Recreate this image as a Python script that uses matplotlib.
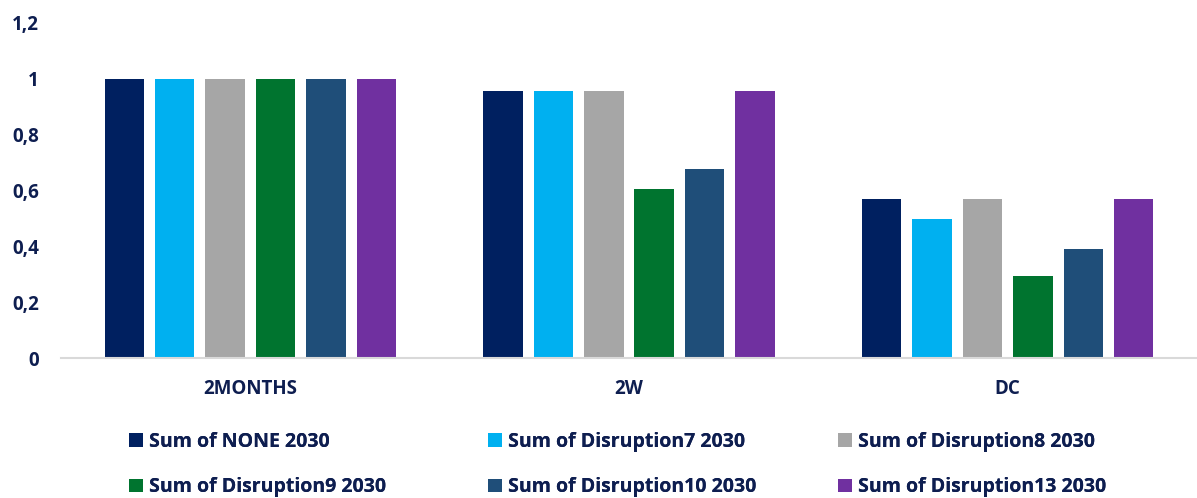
import numpy as np
import matplotlib.pyplot as plt
from matplotlib.patches import Patch

plt.rcParams['font.family'] = ['Open Sans', 'DejaVu Sans']

categories = ['2MONTHS', '2W', 'DC']
series_names = ['Sum of NONE 2030', 'Sum of Disruption7 2030', 'Sum of Disruption8 2030',
                'Sum of Disruption9 2030', 'Sum of Disruption10 2030', 'Sum of Disruption13 2030']
none_2030 = [1.0, 0.957, 0.571]
disruption7_2030 = [1.0, 0.957, 0.497]
disruption8_2030 = [1.0, 0.957, 0.571]
disruption9_2030 = [1.0, 0.606, 0.294]
disruption10_2030 = [1.0, 0.678, 0.391]
disruption13_2030 = [1.0, 0.957, 0.571]
y_ticks = [0, 0.2, 0.4, 0.6, 0.8, 1.0, 1.2]
y_tick_labels = ['0', '0,2', '0,4', '0,6', '0,8', '1', '1,2']

colors = ['#002060', '#00B0F0', '#A6A6A6', '#00742F', '#1F4E79', '#7030A0']
text_color = '#0E1E50'
series = [none_2030, disruption7_2030, disruption8_2030,
          disruption9_2030, disruption10_2030, disruption13_2030]

fig = plt.figure(figsize=(11.97, 4.98), dpi=100)
ax = fig.add_axes([61 / 1197, 0.281, 1136 / 1197, 0.673])

x = np.arange(len(categories))
step = 0.133
width = 0.104
for i, (vals, col) in enumerate(zip(series, colors)):
    ax.bar(x + (i - 2.5) * step, vals, width=width, color=col, label=series_names[i])

ax.set_xlim(-0.5, 2.5)
ax.set_ylim(0, 1.2)
ax.set_yticks(y_ticks)
ax.set_yticklabels(y_tick_labels)
ax.set_xticks(x)
ax.set_xticklabels(categories)
ax.tick_params(axis='both', length=0, labelsize=13.5, labelcolor=text_color)
ax.tick_params(axis='y', pad=16)
ax.tick_params(axis='x', pad=15)
for lbl in ax.get_xticklabels() + ax.get_yticklabels():
    lbl.set_fontweight('bold')
for side in ['top', 'right', 'left']:
    ax.spines[side].set_visible(False)
ax.spines['bottom'].set_color('#D9D9D9')
ax.spines['bottom'].set_linewidth(1.5)

# legend: three columns of two entries, placed separately
col_x = [129, 488, 838]
for c in range(3):
    idx = [c, c + 3]
    handles = [Patch(facecolor=colors[k]) for k in idx]
    labels = [series_names[k] for k in idx]
    leg = fig.legend(handles, labels, loc='upper left',
                     bbox_to_anchor=(col_x[c] / 1197, 1 - 432 / 498),
                     frameon=False, borderpad=0, borderaxespad=0,
                     handlelength=0.72, handleheight=0.72,
                     handletextpad=0.3, labelspacing=1.3,
                     prop={'size': 14, 'weight': 'bold'})
    for t in leg.get_texts():
        t.set_color(text_color)
    fig.add_artist(leg)

fig.savefig('out.png', dpi=100)
